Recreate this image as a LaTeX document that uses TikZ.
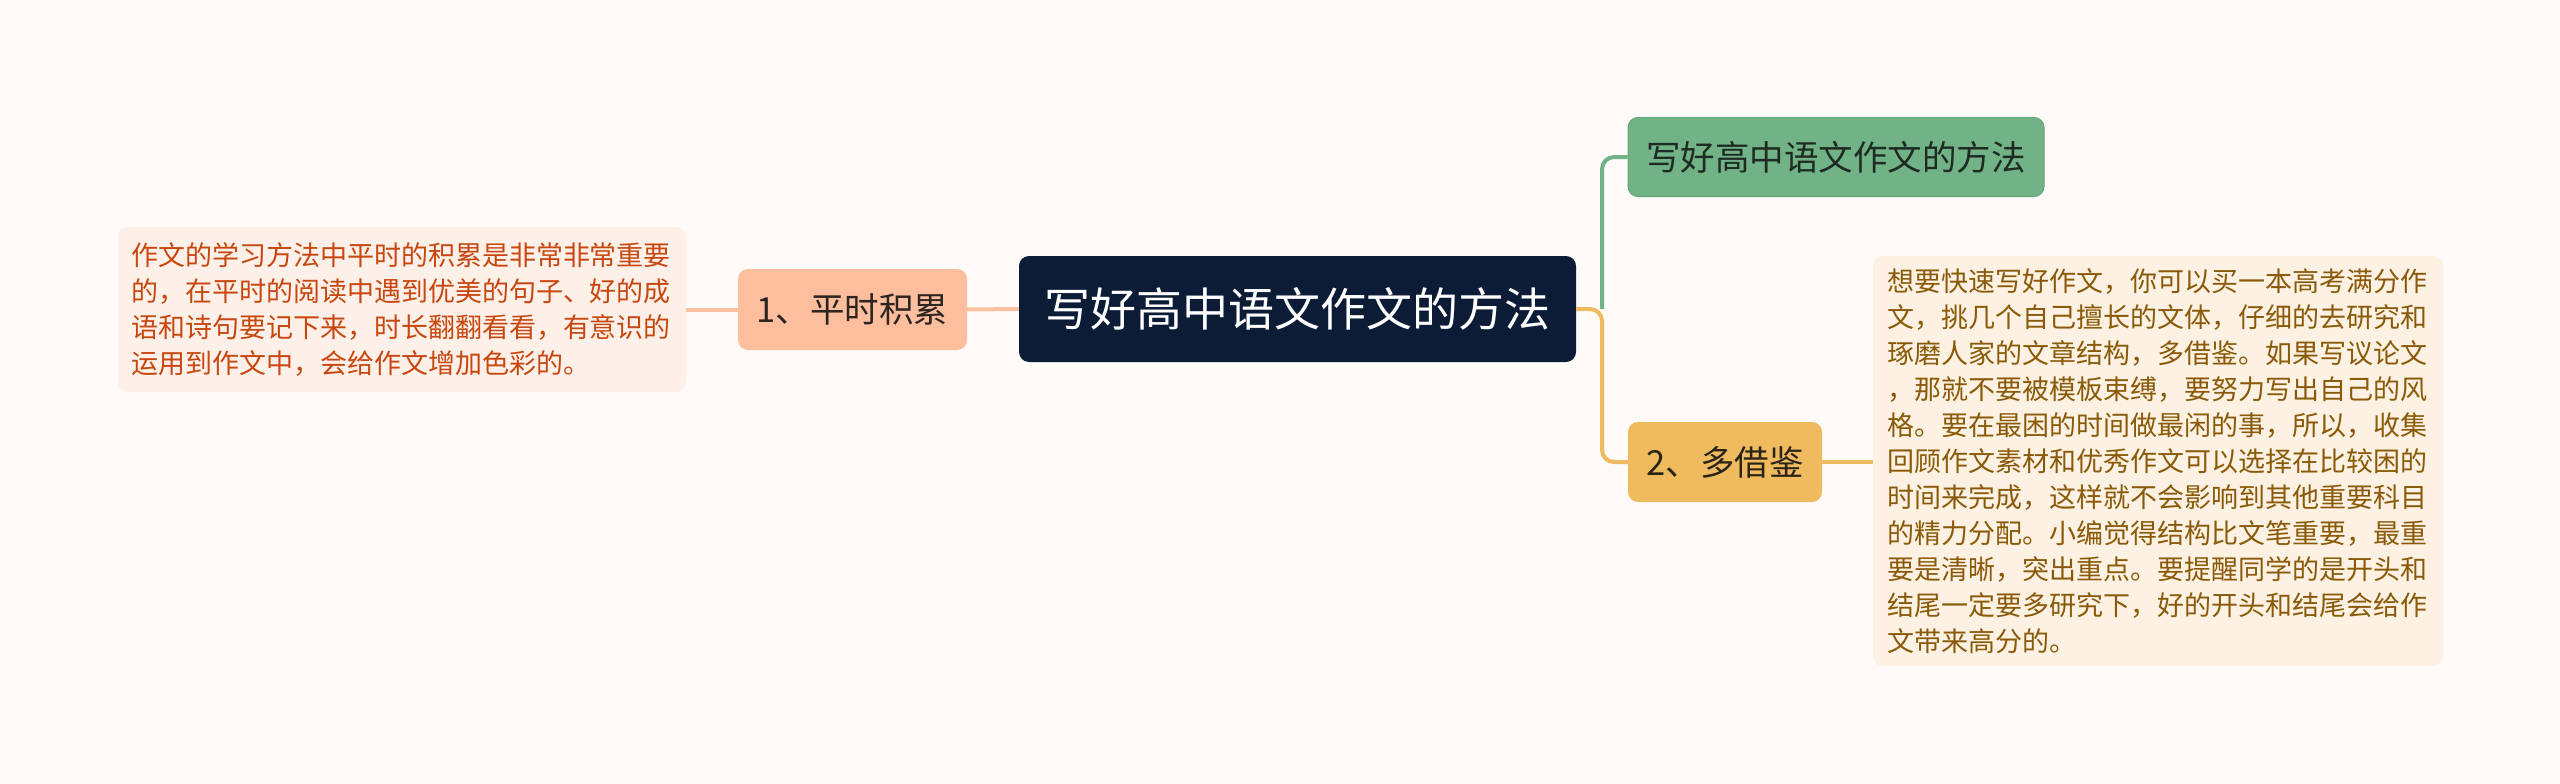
\documentclass[tikz,border=0pt]{standalone}
\usepackage{fontspec}
\setmainfont{Noto Sans CJK SC}
\definecolor{bgc}{HTML}{FEFAF8}
\definecolor{navy}{HTML}{0D1C36}
\definecolor{grn}{HTML}{72B287}
\definecolor{grnd}{HTML}{62A578}
\definecolor{grntxt}{HTML}{1E2B22}
\definecolor{org}{HTML}{F0BB5E}
\definecolor{orgtxt}{HTML}{2A2418}
\definecolor{rbox}{HTML}{FCF1E2}
\definecolor{rtxt}{HTML}{8A5A08}
\definecolor{sal}{HTML}{FDBE9D}
\definecolor{sall}{HTML}{FBC2A2}
\definecolor{saltxt}{HTML}{2E2520}
\definecolor{lbox}{HTML}{FDF0E9}
\definecolor{ltxt}{HTML}{C8470F}
\tikzset{
  topic/.style={rounded corners=10pt, inner sep=0pt, align=center},
  bodybox/.style={rounded corners=10pt, inner ysep=0pt, align=left, text width=542pt,
    font=\fontsize{27pt}{36pt}\selectfont},
  conn/.style={line width=4pt},
}
\begin{document}
\begin{tikzpicture}[x=1pt,y=-1pt]
\useasboundingbox (0,0) rectangle (2560,784);
\fill[bgc] (0,0) rectangle (2560,784);
% nodes
\node[topic, fill=navy, text=white, minimum width=557pt, minimum height=106pt,
  font=\fontsize{46pt}{52pt}\selectfont] (c) at (1297.5,309) {写好高中语文作文的方法};
\node[topic, fill=grn, draw=grnd, line width=1pt, text=grntxt, minimum width=416pt, minimum height=79pt,
  font=\fontsize{34.5pt}{40pt}\selectfont] (g) at (1836,157) {写好高中语文作文的方法};
\node[topic, fill=org, text=orgtxt, minimum width=194pt, minimum height=80pt,
  font=\fontsize{34.5pt}{40pt}\selectfont] (n2) at (1725,462) {2、多借鉴};
\node[topic, fill=sal, text=saltxt, minimum width=229pt, minimum height=81pt,
  font=\fontsize{34.5pt}{40pt}\selectfont] (n1) at (852.5,309.5) {1、平时积累};
\node[bodybox, fill=lbox, text=ltxt, inner xsep=13pt, minimum height=165pt] (lt) at (402,309.5)
  {作文的学习方法中平时的积累是非常非常重要\\
   的，在平时的阅读中遇到优美的句子、好的成\\
   语和诗句要记下来，时长翻翻看看，有意识的\\
   运用到作文中，会给作文增加色彩的。};
\node[bodybox, fill=rbox, text=rtxt, inner xsep=14pt, minimum height=410pt] (rt) at (2158,461)
  {想要快速写好作文，你可以买一本高考满分作\\
   文，挑几个自己擅长的文体，仔细的去研究和\\
   琢磨人家的文章结构，多借鉴。如果写议论文\\
   ，那就不要被模板束缚，要努力写出自己的风\\
   格。要在最困的时间做最闲的事，所以，收集\\
   回顾作文素材和优秀作文可以选择在比较困的\\
   时间来完成，这样就不会影响到其他重要科目\\
   的精力分配。小编觉得结构比文笔重要，最重\\
   要是清晰，突出重点。要提醒同学的是开头和\\
   结尾一定要多研究下，好的开头和结尾会给作\\
   文带来高分的。};
% connectors
\coordinate (j) at (1602,309);
\draw[conn, draw=grn, rounded corners=12pt] (j) |- (g.west);
\draw[conn, draw=org, rounded corners=12pt] (c.east) -- (j) |- (n2.west);
\draw[conn, draw=org] (n2.east) -- (rt.west |- n2.east);
\draw[conn, draw=sall] (c.west) -- (n1.east);
\draw[conn, draw=sall] (n1.west) -- (lt.east);
\end{tikzpicture}
\end{document}
